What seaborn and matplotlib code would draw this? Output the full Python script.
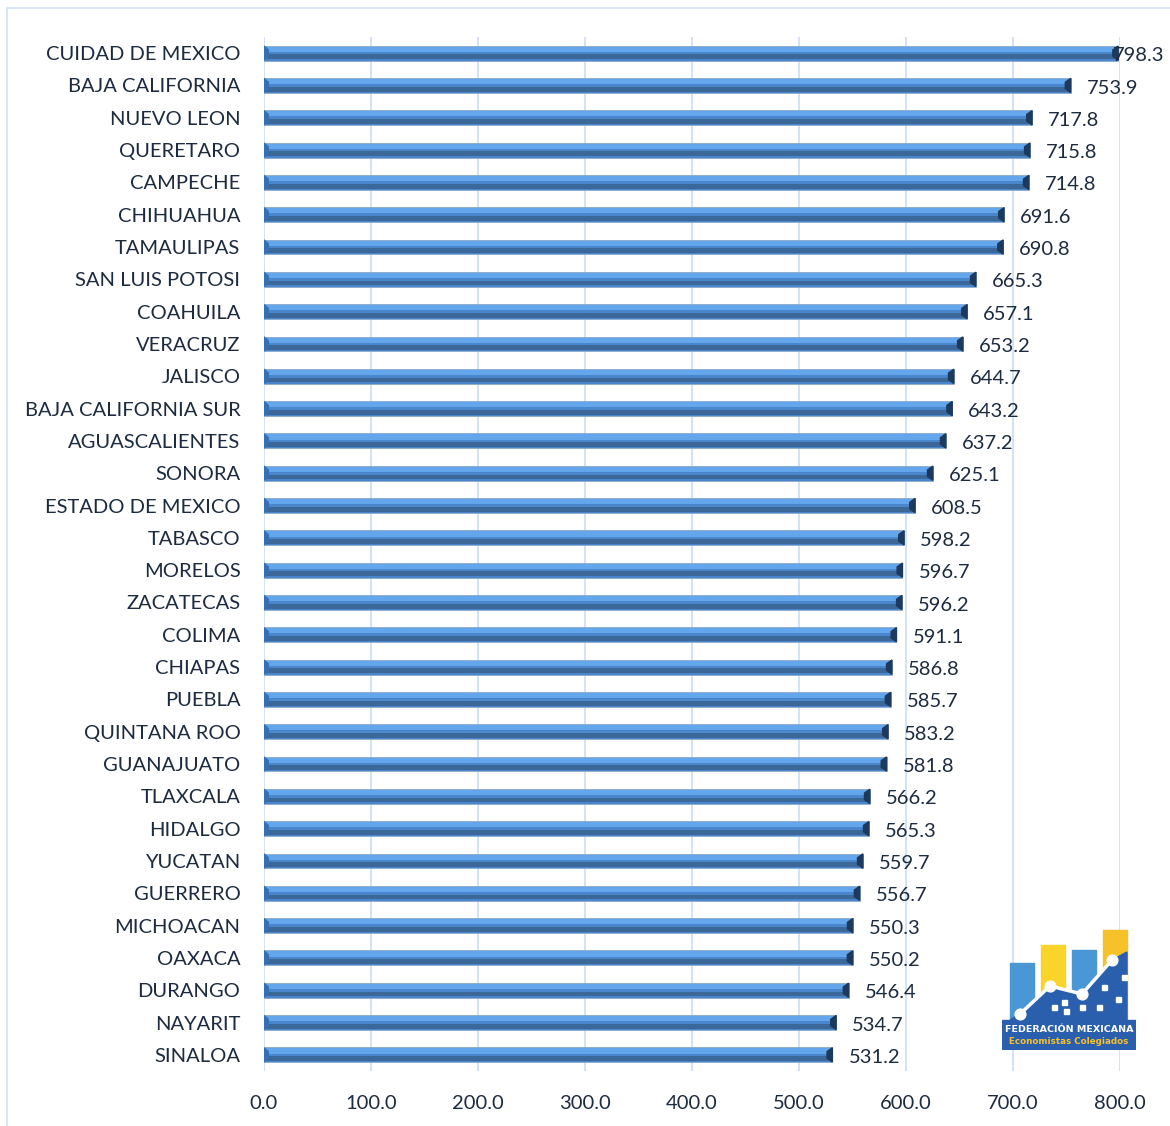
import numpy as np
import pandas as pd
import matplotlib
matplotlib.use("Agg")
import matplotlib.pyplot as plt
import matplotlib.patches as mpatches
import seaborn as sns

# data
states = ['CUIDAD DE MEXICO', 'BAJA CALIFORNIA', 'NUEVO LEON', 'QUERETARO', 'CAMPECHE',
          'CHIHUAHUA', 'TAMAULIPAS', 'SAN LUIS POTOSI', 'COAHUILA', 'VERACRUZ', 'JALISCO',
          'BAJA CALIFORNIA SUR', 'AGUASCALIENTES', 'SONORA', 'ESTADO DE MEXICO', 'TABASCO',
          'MORELOS', 'ZACATECAS', 'COLIMA', 'CHIAPAS', 'PUEBLA', 'QUINTANA ROO', 'GUANAJUATO',
          'TLAXCALA', 'HIDALGO', 'YUCATAN', 'GUERRERO', 'MICHOACAN', 'OAXACA', 'DURANGO',
          'NAYARIT', 'SINALOA']
values = [798.3, 753.9, 717.8, 715.8, 714.8, 691.6, 690.8, 665.3, 657.1, 653.2, 644.7,
          643.2, 637.2, 625.1, 608.5, 598.2, 596.7, 596.2, 591.1, 586.8, 585.7, 583.2, 581.8,
          566.2, 565.3, 559.7, 556.7, 550.3, 550.2, 546.4, 534.7, 531.2]
x_ticks = [0, 100, 200, 300, 400, 500, 600, 700, 800]

df = pd.DataFrame({'estado': states, 'valor': values})

sns.set_style("white")
plt.rcParams['font.family'] = ['Lato', 'DejaVu Sans']
text_col = '#1c2b3f'
fs = 14.5

fig = plt.figure(figsize=(11.7, 11.26), dpi=100)
ax = fig.add_axes([264 / 1170, 1 - 1071 / 1126, (1120 - 264) / 1170, (1071 - 37) / 1126])

# base bar
sns.barplot(data=df, x='valor', y='estado', orient='h', color='#4a86cc', saturation=1,
            width=0.46, edgecolor='#8aa6c6', linewidth=0.5, ax=ax)
ypos = np.arange(len(states))
# bevel: light upper strip, dark lower strip
ax.barh(ypos - 0.12, df['valor'], height=0.16, color='#63a6ec', linewidth=0, zorder=3)
ax.barh(ypos + 0.115, df['valor'], height=0.15, color='#3b6899', linewidth=0, zorder=3)
# end caps + value labels
for i, (y, v) in enumerate(zip(ypos, df['valor'])):
    ax.add_patch(mpatches.Polygon([[v, y - 0.22], [v, y + 0.22], [v - 5, y + 0.1], [v - 5, y - 0.1]],
                                  closed=True, color='#1d3a5e', zorder=4))
    ax.add_patch(mpatches.Polygon([[0, y - 0.22], [0, y + 0.22], [4, y + 0.1], [4, y - 0.1]],
                                  closed=True, color='#3570b4', zorder=4))
    lx = v - 5 if i == 0 else v + 15
    ax.text(lx, y + 0.08, f'{v:.1f}', va='center', ha='left', fontsize=fs, color=text_col,
            clip_on=False, zorder=5)

ax.set_xlim(0, 800)
ax.set_ylim(len(states) - 0.5, -0.5)
ax.set_xticks(x_ticks)
ax.set_xticklabels([f'{t:.1f}' for t in x_ticks], fontsize=fs, color=text_col)
ax.tick_params(axis='y', labelsize=fs, labelcolor=text_col, length=0, pad=17)
ax.tick_params(axis='x', length=0, pad=17)
ax.set_xlabel('')
ax.set_ylabel('')
ax.grid(axis='x', color='#cfe0f3', linewidth=1.3)
ax.set_axisbelow(True)
for s in ax.spines.values():
    s.set_visible(False)
ax.set_facecolor('none')

# light border around the chart area
fig.add_artist(plt.Line2D([7 / 1170, 7 / 1170], [0, 1 - 8 / 1126], color='#d2e2f4', linewidth=1.2))
fig.add_artist(plt.Line2D([7 / 1170, 1], [1 - 8 / 1126, 1 - 8 / 1126], color='#d2e2f4', linewidth=1.2))

# logo (decorative)
lg = fig.add_axes([1002 / 1170, 1 - 1050 / 1126, 134 / 1170, 122 / 1126])
lg.set_xlim(0, 134)
lg.set_ylim(0, 122)
lg.axis('off')
lg.add_patch(mpatches.Rectangle((8, 30), 24, 57, color='#4a97d6'))
lg.add_patch(mpatches.Rectangle((39, 30), 24, 75, color='#fbd42b'))
lg.add_patch(mpatches.Rectangle((70, 30), 24, 70, color='#4a97d6'))
lg.add_patch(mpatches.Rectangle((101, 30), 24, 90, color='#f7c12a'))
lg.add_patch(mpatches.Polygon([[8, 30], [18, 36], [48, 64], [80, 56], [110, 90], [125, 98], [125, 30]],
                              closed=True, color='#2a5fae'))
for sx, sy in [(50, 40), (60, 45), (62, 36), (78, 40), (95, 40), (100, 60), (114, 48), (120, 70)]:
    lg.add_patch(mpatches.Rectangle((sx, sy), 5, 5, color='white'))
lg.plot([18, 48, 80, 110], [36, 64, 56, 90], color='white', linewidth=2.5)
lg.scatter([18, 48, 80, 110], [36, 64, 56, 90], s=60, color='white', zorder=5)
lg.add_patch(mpatches.Rectangle((0, 0), 134, 30, color='#2a5fae'))
lg.text(67, 20, 'FEDERACIÓN MEXICANA', ha='center', va='center', fontsize=6.8,
        color='white', fontweight='bold', family=['DejaVu Sans'])
lg.text(67, 8, 'Economistas Colegiados', ha='center', va='center', fontsize=6.3,
        color='#f7c12a', fontweight='bold', family=['DejaVu Sans'])

fig.savefig('out.png', dpi=100)
